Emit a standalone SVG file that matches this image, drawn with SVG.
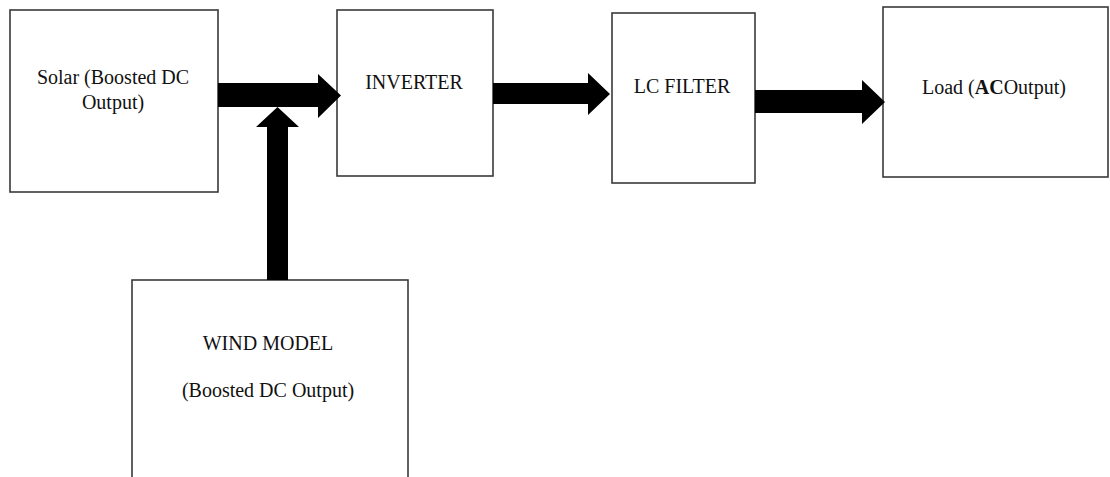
<svg xmlns="http://www.w3.org/2000/svg" width="1110" height="477" viewBox="0 0 1110 477">
<style>
.box{fill:#fff;stroke:#3a3a3a;stroke-width:1.6}
.t{font-family:"Liberation Serif","Times New Roman",serif;font-size:20px;fill:#111}
.c{text-anchor:middle}
.arr{fill:#000}
</style>
<rect width="1110" height="477" fill="#fff"/>
<g id="solar">
<rect class="box" x="10" y="10" width="208" height="182"/>
<text class="t c" x="113" y="84">Solar (Boosted DC</text>
<text class="t c" x="113" y="109">Output)</text>
</g>
<g id="inverter">
<rect class="box" x="337" y="10" width="156" height="166"/>
<text class="t c" x="414" y="89">INVERTER</text>
</g>
<g id="lcfilter">
<rect class="box" x="612" y="13" width="143" height="170"/>
<text class="t c" x="682" y="93">LC FILTER</text>
</g>
<g id="load">
<rect class="box" x="883" y="7" width="225" height="170"/>
<text class="t" x="922" y="94">Load (<tspan font-weight="bold">AC</tspan>Output)</text>
</g>
<g id="wind">
<rect class="box" x="132" y="280" width="276" height="220"/>
<text class="t c" x="268" y="350">WIND MODEL</text>
<text class="t c" x="268" y="397">(Boosted DC Output)</text>
</g>
<g id="connectors">
<polygon class="arr" points="218,83 318,83 318,74 341,95.5 318,118 318,107 218,107"/>
<polygon class="arr" points="267,280 267,127 256,127 277.5,107 299,127 288,127 288,280"/>
<polygon class="arr" points="493,83 588,83 588,73 610,94 588,115 588,104 493,104"/>
<polygon class="arr" points="755,90 862,90 862,80 885,102 862,124 862,113 755,113"/>
</g>
</svg>
